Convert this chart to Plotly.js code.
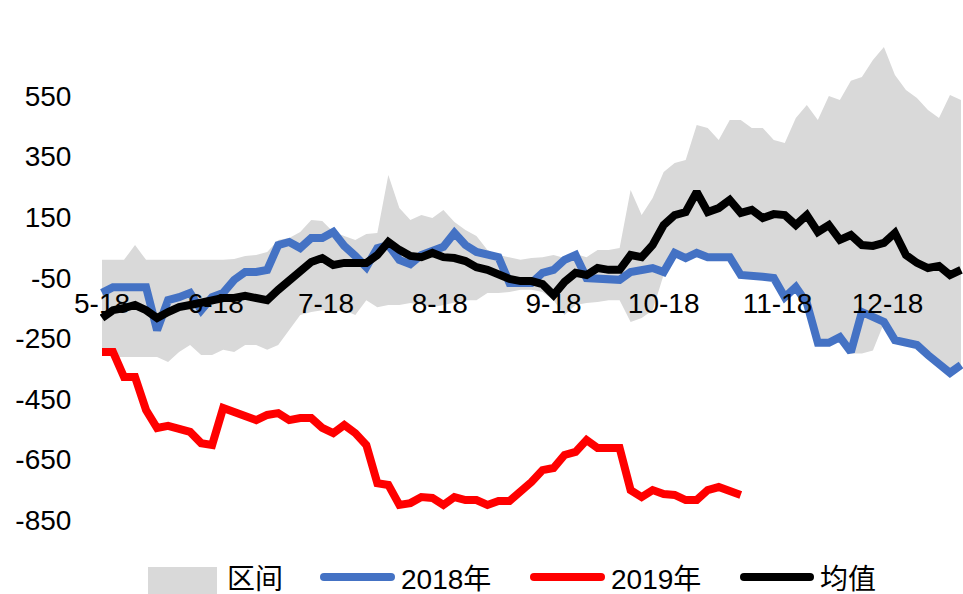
<!DOCTYPE html>
<html>
<head>
<meta charset="utf-8">
<script src="https://cdn.plot.ly/plotly-3.0.1.min.js"></script>
<style>html,body{margin:0;padding:0;background:#fff;}#chart{width:963px;height:594px;}</style>
</head>
<body>
<div id="chart"></div>
<script>
// ---- data ----
const dates = ["2018-05-18","2018-05-21","2018-05-24","2018-05-27","2018-05-30","2018-06-02","2018-06-05","2018-06-08","2018-06-11","2018-06-14","2018-06-17","2018-06-20","2018-06-23","2018-06-26","2018-06-29","2018-07-02","2018-07-05","2018-07-08","2018-07-11","2018-07-14","2018-07-17","2018-07-20","2018-07-23","2018-07-26","2018-07-29","2018-08-01","2018-08-04","2018-08-07","2018-08-10","2018-08-13","2018-08-16","2018-08-19","2018-08-22","2018-08-25","2018-08-28","2018-08-31","2018-09-03","2018-09-06","2018-09-09","2018-09-12","2018-09-15","2018-09-18","2018-09-21","2018-09-24","2018-09-27","2018-09-30","2018-10-03","2018-10-06","2018-10-09","2018-10-12","2018-10-15","2018-10-18","2018-10-21","2018-10-24","2018-10-27","2018-10-30","2018-11-02","2018-11-05","2018-11-08","2018-11-11","2018-11-14","2018-11-17","2018-11-20","2018-11-23","2018-11-26","2018-11-29","2018-12-02","2018-12-05","2018-12-08","2018-12-11","2018-12-14","2018-12-17","2018-12-20","2018-12-23","2018-12-26","2018-12-29","2019-01-01","2019-01-04","2019-01-07"];

const rangeUpper = [9,9,9,58,9,9,9,9,9,9,9,9,12,22,25,35,75,81,101,141,137,101,88,75,94,98,289,180,141,157,147,174,134,108,88,42,25,18,9,15,18,25,15,28,18,42,42,48,240,157,213,299,329,339,454,444,405,471,471,444,444,405,395,477,520,471,550,537,600,613,669,712,619,570,543,504,477,553,537];

const rangeLower = [-288,-312,-312,-312,-312,-312,-328,-295,-272,-305,-305,-288,-295,-272,-272,-288,-272,-222,-173,-163,-157,-163,-157,-173,-124,-147,-140,-140,-133,-140,-147,-140,-133,-124,-124,-100,-100,-97,-90,-90,-97,-124,-173,-140,-133,-130,-124,-124,-196,-183,-157,-40,28,10,28,14,14,14,-45,-52,-52,-55,-118,-85,-137,-270,-270,-250,-300,-300,-290,-200,-260,-266,-276,-309,-342,-368,-342];

const y2018 = [-100,-81,-81,-81,-81,-223,-124,-114,-100,-157,-114,-100,-57,-31,-31,-24,58,68,48,81,81,101,55,22,-15,48,58,9,-5,25,42,52,98,58,35,25,18,-67,-67,-67,-34,-24,9,25,-51,-51,-57,-57,-31,-24,-18,-31,32,15,32,18,18,18,-41,-47,-47,-51,-114,-81,-133,-265,-265,-246,-295,-163,-180,-196,-256,-262,-272,-305,-338,-364,-338];

const y2019 = [-295,-295,-378,-378,-487,-546,-539,-546,-559,-596,-602,-480,-493,-503,-520,-503,-497,-520,-513,-513,-546,-563,-536,-563,-602,-728,-734,-800,-794,-774,-777,-800,-774,-784,-784,-800,-787,-787,-757,-724,-685,-678,-635,-625,-586,-612,-612,-612,-751,-774,-751,-764,-767,-784,-784,-751,-741,-757,-767];

const yMean = [-183,-157,-150,-140,-157,-183,-163,-147,-140,-133,-130,-117,-117,-110,-117,-124,-90,-57,-24,2,15,-8,-1,-1,-1,25,68,42,22,18,32,18,15,5,-15,-24,-41,-54,-61,-61,-71,-107,-64,-34,-41,-18,-24,-24,25,18,58,124,157,167,233,167,180,207,164,174,147,160,157,124,157,101,124,75,91,58,55,65,98,25,-1,-18,-11,-41,-24];

const xTickVals = ["2018-05-18","2018-06-18","2018-07-18","2018-08-18","2018-09-18","2018-10-18","2018-11-18","2018-12-18"];
const xTickText = ["5-18","6-18","7-18","8-18","9-18","10-18","11-18","12-18"];
const yTickVals = [550,350,150,-50,-250,-450,-650,-850];
const yTickText = ["550","350","150","-50","-250","-450","-650","-850"];

const seriesNames = ["区间","2018年","2019年","均值"];
const colors = {band:"#D9D9D9", s2018:"#4472C4", s2019:"#FF0000", mean:"#000000"};

// ---- layout geometry ----
const W = 963, H = 594;
const M = {l:100, r:0, t:0, b:34};
const PW = W - M.l - M.r, PH = H - M.t - M.b;
const xp = px => (px - M.l) / PW;
const yp = py => (PH + M.t - py) / PH;
const FONT = "Liberation Sans, Noto Sans CJK SC, sans-serif";

const traces = [
  {x: dates, y: rangeLower, type:"scatter", mode:"lines", line:{width:0, color:colors.band}, showlegend:false, hoverinfo:"skip"},
  {x: dates, y: rangeUpper, type:"scatter", mode:"lines", fill:"tonexty", fillcolor:colors.band, line:{width:0, color:colors.band}, name:seriesNames[0], showlegend:false},
  {x: dates, y: y2018, type:"scatter", mode:"lines", line:{width:8, color:colors.s2018}, name:seriesNames[1], showlegend:false},
  {x: dates.slice(0, y2019.length), y: y2019, type:"scatter", mode:"lines", line:{width:8, color:colors.s2019}, name:seriesNames[2], showlegend:false},
  {x: dates, y: yMean, type:"scatter", mode:"lines", line:{width:8, color:colors.mean}, name:seriesNames[3], showlegend:false}
];

// manual legend (symbols + texts), pixel positions
const LEG_Y = 577;
const legendItems = [
  {kind:"box",  color:colors.band,   x0:148, x1:217, tx:226},
  {kind:"line", color:colors.s2018,  x0:320, x1:395, tx:400},
  {kind:"line", color:colors.s2019,  x0:530, x1:605, tx:610},
  {kind:"line", color:colors.mean,   x0:740, x1:814, tx:819}
];
const shapes = [];
const annotations = [];
legendItems.forEach((it, i) => {
  if (it.kind === "box") {
    shapes.push({type:"rect", xref:"paper", yref:"paper", x0:xp(it.x0), x1:xp(it.x1), y0:yp(LEG_Y-10), y1:yp(LEG_Y+17),
      fillcolor:it.color, line:{width:0}});
  } else {
    shapes.push({type:"line", xref:"paper", yref:"paper", x0:xp(it.x0+4), x1:xp(it.x1-4), y0:yp(LEG_Y), y1:yp(LEG_Y),
      line:{color:it.color, width:8}});
    shapes.push({type:"circle", xref:"paper", yref:"paper", x0:xp(it.x0), x1:xp(it.x0+8), y0:yp(LEG_Y-4), y1:yp(LEG_Y+4),
      fillcolor:it.color, line:{width:0}});
    shapes.push({type:"circle", xref:"paper", yref:"paper", x0:xp(it.x1-8), x1:xp(it.x1), y0:yp(LEG_Y-4), y1:yp(LEG_Y+4),
      fillcolor:it.color, line:{width:0}});
  }
  annotations.push({text:seriesNames[i], xref:"paper", yref:"paper", x:xp(it.tx), y:yp(LEG_Y+2), xanchor:"left", yanchor:"middle",
    showarrow:false, font:{family:FONT, size:28, color:"#000"}, borderpad:0});
});

const layout = {
  width:W, height:H,
  margin:{l:M.l, r:M.r, t:M.t, b:M.b, pad:0, autoexpand:false},
  paper_bgcolor:"#fff", plot_bgcolor:"#fff",
  showlegend:false,
  font:{family:FONT, size:28, color:"#000"},
  xaxis:{
    type:"date",
    range:["2018-05-17 10:55", "2019-01-07 13:00"],
    tickmode:"array", tickvals:xTickVals, ticktext:xTickText,
    showgrid:false, zeroline:false, showline:false, ticks:"",
    anchor:"free", position:yp(284),
    tickfont:{family:FONT, size:28, color:"#000"},
    fixedrange:true
  },
  yaxis:{
    range:[-981.8, 866.9],
    tickmode:"array", tickvals:yTickVals, ticktext:yTickText,
    showgrid:false, zeroline:false, showline:false,
    ticks:"outside", ticklen:22, tickcolor:"rgba(0,0,0,0)",
    tickfont:{family:FONT, size:28, color:"#000"},
    fixedrange:true
  },
  shapes: shapes,
  annotations: annotations
};

Plotly.newPlot("chart", traces, layout, {displayModeBar:false, staticPlot:true});
</script>
</body>
</html>
